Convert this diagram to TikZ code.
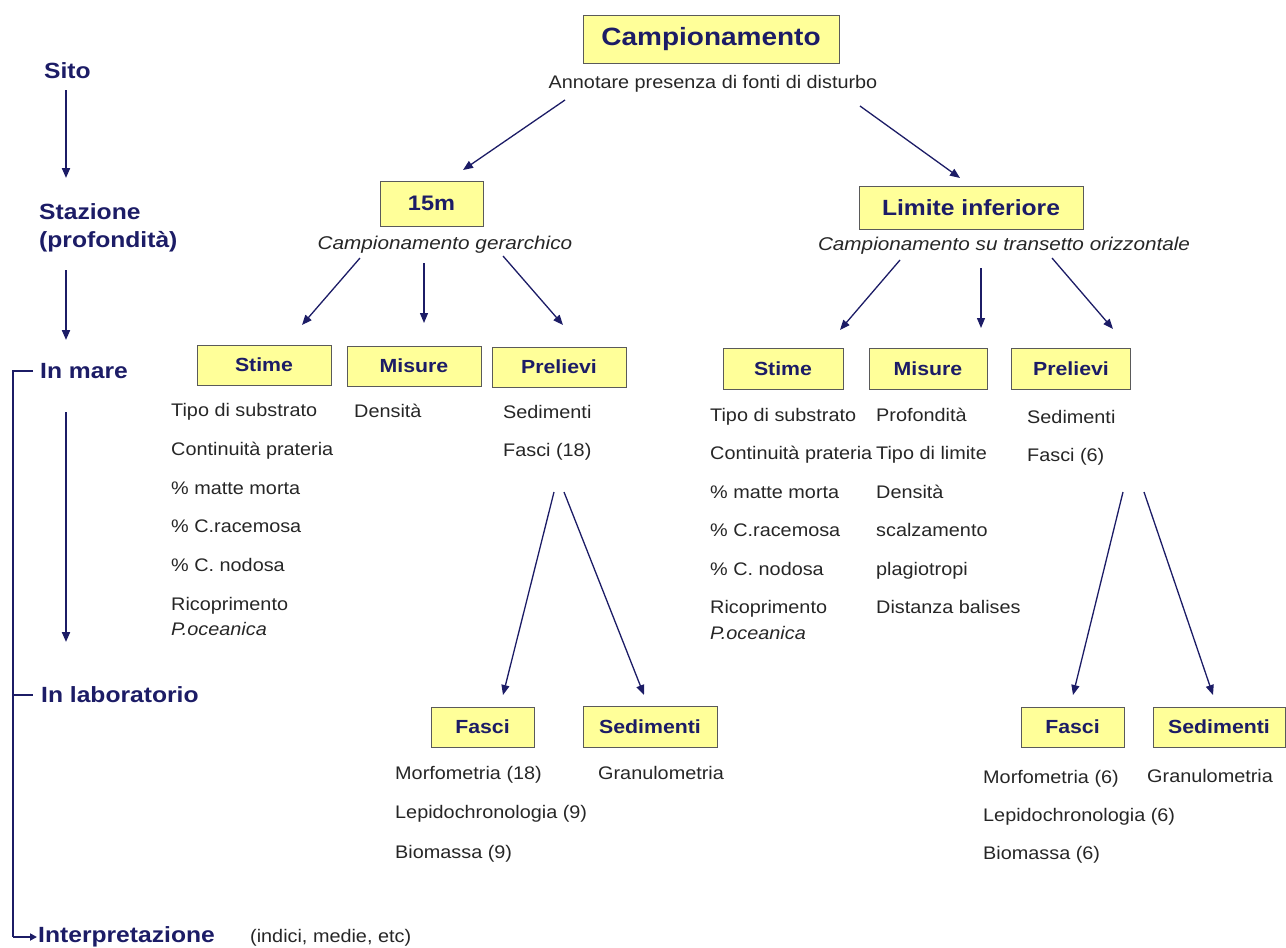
\documentclass[tikz,border=0pt]{standalone}
\usepackage{fontspec}
\setmainfont{Liberation Sans}[FakeStretch=1.12]
\newfontfamily\bodyfont{Liberation Sans}[FakeStretch=1.09]
\usetikzlibrary{arrows.meta}
\definecolor{navy}{RGB}{28,28,102}
\definecolor{boxfill}{RGB}{255,255,153}
\definecolor{boxline}{RGB}{90,90,90}

\begin{document}
\begin{tikzpicture}
  [x=1pt,y=-1pt,
   box/.style={draw=boxline,fill=boxfill,line width=1pt,inner sep=0pt,text=navy,
     minimum height=40pt,font=\bfseries\fontsize{19}{22}\selectfont},
   lvl/.style={anchor=base west,inner sep=0pt,text=navy,align=left,
     font=\bfseries\fontsize{22}{28}\selectfont},
   item/.style={anchor=base west,inner sep=0pt,text=black!85,font=\bodyfont\fontsize{18.2}{22}\selectfont},
   sub/.style={anchor=base,inner sep=0pt,text=black!85,font=\itshape\fontsize{18.5}{22}\selectfont},
   arr/.style={draw=navy,line width=1.3pt,-{Triangle[length=10pt,width=8pt]}},
   bar/.style={draw=navy,line width=2pt}]
  \useasboundingbox (0,0) rectangle (1286,948);

  % levels on the left
  \node[lvl] (sito) at (44,78) {Sito};
  \node[lvl] (staz) at (39,247) {Stazione\\(profondità)};
  \node[lvl] (mare) at (40,378) {In mare};
  \node[lvl] (lab) at (41,702) {In laboratorio};
  \node[lvl] (interp) at (38,942) {Interpretazione};
  \node[item] (note) at (250,942) {(indici, medie, etc)};

  % boxes
  \node[box,minimum width=256pt,minimum height=48pt,
    font=\bfseries\fontsize{25}{30}\selectfont] (camp) at (711,39) {Campionamento};
  \node[item,anchor=base] (annot) at (713,88) {Annotare presenza di fonti di disturbo};
  \node[box,minimum width=103pt,minimum height=45pt,
    font=\bfseries\fontsize{21}{25}\selectfont] (m15) at (431.5,203.5) {15m};
  \node[sub] (gerar) at (445,249) {Campionamento gerarchico};
  \node[box,minimum width=224pt,minimum height=43pt,
    font=\bfseries\fontsize{22}{26}\selectfont] (limite) at (971,207.5) {Limite inferiore};
  \node[sub] (trans) at (1004,250) {Campionamento su transetto orizzontale};

  \node[box,minimum width=134pt] (stimeA) at (264,365) {Stime};
  \node[box,minimum width=134pt] (misureA) at (414,366) {Misure};
  \node[box,minimum width=134pt] (prelA) at (559,367) {Prelievi};
  \node[box,minimum width=120pt,minimum height=41pt] (stimeB) at (783,369) {Stime};
  \node[box,minimum width=118pt,minimum height=41pt] (misureB) at (928,369) {Misure};
  \node[box,minimum width=119pt,minimum height=41pt] (prelB) at (1071,369) {Prelievi};

  \node[box,minimum width=103pt] (fasciA) at (482.5,727) {Fasci};
  \node[box,minimum width=134pt,minimum height=41pt] (sedA) at (650,726.5) {Sedimenti};
  \node[box,minimum width=103pt] (fasciB) at (1072.5,727) {Fasci};
  \node[box,minimum width=132pt] (sedB) at (1219,727) {Sedimenti};

  % lists
  \foreach \t [count=\i from 0] in {Tipo di substrato,Continuità prateria,
      \% matte morta,\% C.racemosa,\% C. nodosa,Ricoprimento}
    \node[item] (sa\i) at (171,{416.5+38.8*\i}) {\t};
  \node[item,font=\bodyfont\itshape\fontsize{18.2}{22}\selectfont] (sa6) at (171,635) {P.oceanica};
  \node[item] (ma0) at (354,417) {Densità};
  \node[item] (pa0) at (503,418) {Sedimenti};
  \node[item] (pa1) at (503,456) {Fasci (18)};

  \foreach \t [count=\i from 0] in {Tipo di substrato,Continuità prateria,
      \% matte morta,\% C.racemosa,\% C. nodosa,Ricoprimento}
    \node[item] (sb\i) at (710,{421+38.5*\i}) {\t};
  \node[item,font=\bodyfont\itshape\fontsize{18.2}{22}\selectfont] (sb6) at (710,639) {P.oceanica};
  \foreach \t [count=\i from 0] in {Profondità,Tipo di limite,Densità,
      scalzamento,plagiotropi,Distanza balises}
    \node[item] (mb\i) at (876,{421+38.5*\i}) {\t};
  \node[item] (pb0) at (1027,423) {Sedimenti};
  \node[item] (pb1) at (1027,461) {Fasci (6)};

  \foreach \t [count=\i from 0] in {Morfometria (18),Lepidochronologia (9),Biomassa (9)}
    \node[item] (fa\i) at (395,{779+39.5*\i}) {\t};
  \node[item] (ga0) at (598,779) {Granulometria};
  \foreach \t [count=\i from 0] in {Morfometria (6),Lepidochronologia (6),Biomassa (6)}
    \node[item] (fb\i) at (983,{783+38*\i}) {\t};
  \node[item] (gb0) at (1147,782) {Granulometria};

  % arrow ends
  \foreach \n/\x/\y in {a0/565/100,a1/463/170,a2/860/106,a3/960/178,
      b0/360/258,b1/302/325,b2/424/263,b3/424/323,b4/503/256,b5/563/325,
      c0/900/260,c1/840/330,c2/981/268,c3/981/328,c4/1052/258,c5/1113/329,
      d0/554/492,d1/503/695,d2/564/492,d3/644/695,
      e0/1123/492,e1/1073/695,e2/1144/492,e3/1213/695,
      l0/66/90,l1/66/178,l2/66/270,l3/66/340,l4/66/412,l5/66/642,
      k0/33/371,k1/13/371,k2/13/695,k3/33/695,k4/13/937,k5/37/937}
    \coordinate (\n) at (\x,\y);

  \foreach \from/\to in {a0/a1,a2/a3,b0/b1,b2/b3,b4/b5,c0/c1,c2/c3,c4/c5,
      d0/d1,d2/d3,e0/e1,e2/e3}
    \draw[arr] (\from) -- (\to);

  \foreach \from/\to in {l0/l1,l2/l3,l4/l5}
    \draw[arr,line width=2pt] (\from) -- (\to);

  \draw[bar] (k0) -- (k1) -- (k4);
  \draw[bar] (k2) -- (k3);
  \draw[bar,-{Triangle[length=7pt,width=7pt]}] (k4) -- (k5);

\end{tikzpicture}
\end{document}
